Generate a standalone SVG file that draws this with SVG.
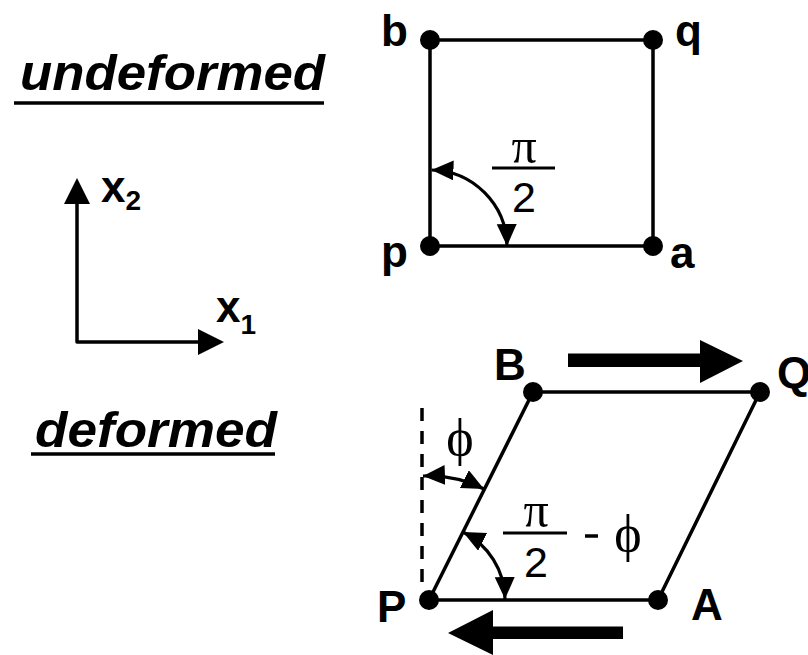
<svg xmlns="http://www.w3.org/2000/svg" width="808" height="655" viewBox="0 0 808 655">
<style>
.ln{stroke:#000;stroke-width:3.5;fill:none;stroke-linecap:round}
.arc{stroke:#000;stroke-width:3.2;fill:none;marker-start:url(#ah);marker-end:url(#ah)}
.dot{fill:#000}
.lbl{font-family:"Liberation Sans",Arial,sans-serif;font-weight:bold;font-size:44px;fill:#000}
.ttl{font-family:"Liberation Sans",Arial,sans-serif;font-weight:bold;font-style:italic;font-size:50px;fill:#000}
.sub{font-family:"Liberation Sans",Arial,sans-serif;font-weight:bold;font-size:28px;fill:#000}
.num{font-family:"Liberation Sans",Arial,sans-serif;font-size:43px;fill:#000}
.grk{font-family:"Liberation Serif","DejaVu Serif",serif;fill:#000}
</style>
<defs>
<marker id="ah" markerUnits="userSpaceOnUse" markerWidth="24" markerHeight="22" refX="22" refY="10" orient="auto-start-reverse" viewBox="0 0 24 22">
<path d="M0,0 L22,10 L0,20 Z" fill="#000"/>
</marker>
</defs>
<g id="title-undeformed">
<text class="ttl" x="20" y="90" textLength="305" lengthAdjust="spacingAndGlyphs">undeformed</text>
<line x1="14" y1="103" x2="324" y2="103" stroke="#000" stroke-width="3.5"/>
</g>
<g id="title-deformed">
<text class="ttl" x="35" y="447" textLength="242" lengthAdjust="spacingAndGlyphs">deformed</text>
<line x1="31" y1="454" x2="275" y2="454" stroke="#000" stroke-width="3.5"/>
</g>
<g id="axes">
<path class="ln" d="M77,342 V200 M77,342 H200" stroke-linecap="square"/>
<path d="M64,204 L77,178 L90,204 Z M198,329 L224,342 L198,355 Z" fill="#000"/>
<text class="lbl" x="101" y="202">x<tspan class="sub" dy="8">2</tspan></text>
<text class="lbl" x="216" y="322">x<tspan class="sub" dy="12">1</tspan></text>
</g>
<g id="connectors">
<path class="ln" d="M430,40 H653 V246 H430 Z"/>
<path class="ln" d="M429,600 L533,392 H760 L658,600 Z"/>
<line x1="422" y1="408" x2="422" y2="587" stroke="#000" stroke-width="3.5" stroke-dasharray="13 10"/>
<path class="arc" d="M431.5,170 A77,77 0 0 1 507,246"/>
<path class="arc" d="M423,476 A124,124 0 0 1 484,489"/>
<path class="arc" d="M463,532 A76,76 0 0 1 505,599"/>
<path d="M568,353.5 H700 V340 L743,361 L700,383 V367 H568 Z" fill="#000"/>
<path d="M623,626.5 H493 V610 L448,633 L493,655 V639 H623 Z" fill="#000"/>
</g>
<g id="node-b"><circle class="dot" cx="430" cy="40" r="10"/><text class="lbl" x="381" y="46">b</text></g>
<g id="node-q"><circle class="dot" cx="653" cy="40" r="10"/><text class="lbl" x="675" y="46">q</text></g>
<g id="node-p"><circle class="dot" cx="430" cy="246" r="10"/><text class="lbl" x="381" y="267">p</text></g>
<g id="node-a"><circle class="dot" cx="653" cy="246" r="10"/><text class="lbl" x="670" y="268">a</text></g>
<g id="node-B"><circle class="dot" cx="533" cy="392" r="10"/><text class="lbl" x="494" y="380">B</text></g>
<g id="node-Q"><circle class="dot" cx="760" cy="392" r="10"/><text class="lbl" x="777" y="388">Q</text></g>
<g id="node-P"><circle class="dot" cx="429" cy="600" r="10"/><text class="lbl" x="377" y="622">P</text></g>
<g id="node-A"><circle class="dot" cx="658" cy="600" r="10"/><text class="lbl" x="691" y="620">A</text></g>
<g id="label-pi2">
<text class="grk" x="524" y="163" font-size="50" text-anchor="middle">π</text>
<line x1="492" y1="168" x2="555" y2="168" stroke="#000" stroke-width="3"/>
<text class="num" x="524" y="212" text-anchor="middle">2</text>
</g>
<g id="label-phi">
<text class="grk" x="460" y="455" font-size="52" text-anchor="middle">ϕ</text>
</g>
<g id="label-pi2-phi">
<text class="grk" x="536" y="527" font-size="50" text-anchor="middle">π</text>
<line x1="503" y1="533" x2="567" y2="533" stroke="#000" stroke-width="3"/>
<text class="num" x="536" y="577" text-anchor="middle">2</text>
<line x1="585" y1="536" x2="598" y2="536" stroke="#000" stroke-width="3.5"/>
<text class="grk" x="628" y="551" font-size="52" text-anchor="middle">ϕ</text>
</g>
</svg>
